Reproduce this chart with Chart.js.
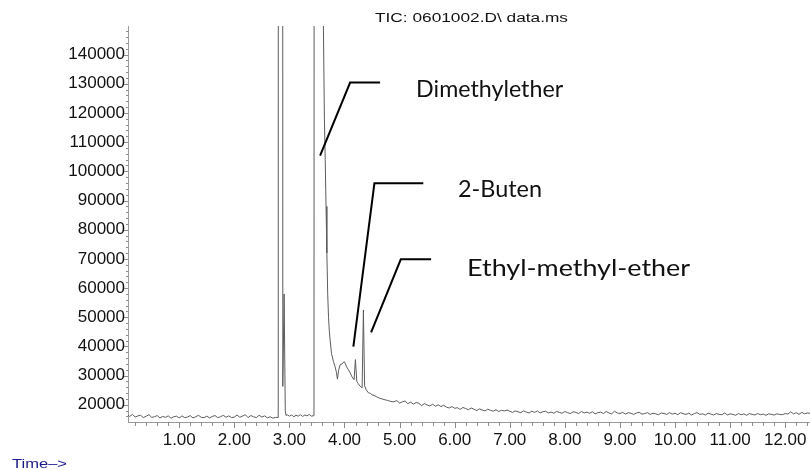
<!DOCTYPE html>
<html><head><meta charset="utf-8">
<script src="https://cdn.jsdelivr.net/npm/chart.js@4/dist/chart.umd.min.js"></script>
<style>html,body{margin:0;padding:0;background:#fff}canvas{display:block}</style>
</head><body>
<canvas id="c" width="810" height="470"></canvas>
<script>
// ---- data (retention time in min, TIC abundance) ----
const preTimes = [0.07,0.10,0.15,0.20,0.25,0.30,0.35,0.40,0.45,0.50,0.55,0.60,0.65,0.70,0.75,0.80,0.85,0.90,0.95,1.00,
  1.05,1.10,1.15,1.20,1.25,1.30,1.35,1.40,1.45,1.50,1.55,1.60,1.65,1.70,1.75,1.80,1.85,1.90,1.95,2.00,
  2.05,2.10,2.15,2.20,2.25,2.30,2.35,2.40,2.45,2.50,2.55,2.60,2.65,2.70,2.75,2.797];
const preTic = [16500,16000,16700,15800,16200,16400,15600,16100,16600,15700,
  15900,16300,15500,16000,15700,16200,15400,15900,16100,15500,
  16200,15600,15800,16300,15500,15900,16400,15700,15600,16100,
  15500,16000,16300,15600,15900,16400,15700,16200,15600,15800,
  16500,15700,16100,16600,15600,16300,15900,15600,16400,15800,
  16200,15500,15900,15400,15700,15600];

const peak1Times = [2.84,2.880,2.904,2.925,2.94];
const peak1Tic = [5000000,26300,58000,18000,16300];

const gapTimes = [2.96,3.00,3.04,3.08,3.12,3.16,3.20,3.24,3.28,3.32,3.36,3.40,3.446];
const gapTic = [16600,16100,16500,15900,16400,16100,16600,16000,16500,16200,16700,16100,16300];

const peak2Times = [3.53,3.617,3.635,3.650,3.665,3.68,3.695,3.71,3.725,3.74,3.765,3.80,3.83,3.855,3.871,3.893,3.92,3.956,3.993,4.011,
  4.038,4.071,4.102,4.132,4.174,4.198,4.223,4.247,4.283,4.32,4.343,4.365,4.392,4.434,4.47,4.501,4.55,4.586,4.63,4.68,
  4.737,4.78,4.83,4.882];
const peak2Tic = [5000000,150000,118000,104000,88000,72000,58000,50000,45000,42000,37500,34800,33000,31000,28800,31800,33700,34000,34800,34300,
  33000,32000,31000,29700,28600,35500,28000,27300,26400,25800,52500,26500,25200,24100,23900,23400,23100,22700,22300,22000,
  21700,21500,21200,21000];

const tailTimes = [4.95,5.00,5.05,5.10,5.15,5.20,5.25,5.30,5.35,5.40,
  5.45,5.50,5.55,5.60,5.65,5.70,5.75,5.80,5.85,5.90,
  5.95,6.00,6.05,6.10,6.15,6.20,6.25,6.30,6.35,6.40,
  6.45,6.50,6.55,6.60,6.65,6.70,6.75,6.80,6.85,6.90,
  6.95,7.00,7.05,7.10,7.15,7.20,7.25,7.30,7.35,7.40,
  7.45,7.50,7.55,7.60,7.65,7.70,7.75,7.80,7.85,7.90,
  7.95,8.00,8.05,8.10,8.15,8.20,8.25,8.30,8.35,8.40,
  8.45,8.50,8.55,8.60,8.65,8.70,8.75,8.80,8.85,8.90,
  8.95,9.00,9.05,9.10,9.15,9.20,9.25,9.30,9.35,9.40,
  9.45,9.50,9.55,9.60,9.65,9.70,9.75,9.80,9.85,9.90,
  9.95,10.00,10.05,10.10,10.15,10.20,10.25,10.30,10.35,10.40,
  10.45,10.50,10.55,10.60,10.65,10.70,10.75,10.80,10.85,10.90,
  10.95,11.00,11.05,11.10,11.15,11.20,11.25,11.30,11.35,11.40,
  11.45,11.50,11.55,11.60,11.65,11.70,11.75,11.80,11.85,11.90,
  11.95,12.00,12.05,12.10,12.15,12.20,12.25,12.30,12.35,12.40,
  12.45];
const tailTic = [21400,20600,21000,21300,20400,20900,20200,20800,20500,19700,
  20400,19900,19600,20200,19500,20000,19400,19800,19200,18900,
  19400,18800,19000,18400,19100,18700,18300,18900,18500,18000,
  18600,18200,17900,18500,18100,17800,18300,17700,18100,17900,
  18200,17800,17400,17900,17600,17300,17900,17500,17200,17800,
  17400,17900,17200,17600,17800,17200,17500,17100,17700,17400,
  17100,17700,17300,17000,17600,17400,17000,17700,17200,17500,
  17100,17600,16900,17300,17500,17000,17700,17200,16900,17800,
  17200,17000,17400,16800,17300,17100,16700,17200,17400,16800,
  17000,17300,16700,17100,16900,16600,17200,17000,16700,17300,
  16800,17100,16600,17300,16900,16700,17100,16500,17000,17300,
  16700,16900,16500,17100,16800,16500,17000,16700,16600,17200,
  16500,16900,16700,16400,17000,16600,16900,16400,17000,16700,
  16500,17000,16600,16800,16400,16900,16700,16500,16900,16700,
  16600,17000,16800,17600,16900,17300,16700,17400,16900,17200,
  17100];

const xTickValues = [1,2,3,4,5,6,7,8,9,10,11,12];
const yTickValues = [20000,30000,40000,50000,60000,70000,80000,90000,100000,110000,120000,130000,140000];

// annotations: [time, abundance] in data units
const annotNames = ['Dimethylether','2-Buten','Ethyl-methyl-ether'];
const annotTip   = [[3.557,105400],[4.161,39900],[4.483,44800]];
const annotElbow = [[4.102,130400],[4.543,95900],[5.022,69850]];
const annotEnd   = [[4.646,130400],[5.430,95900],[5.572,69850]];
const annotLabel = [[5.30,125600],[6.06,91200],[6.225,64100]];

const titleText = 'TIC: 0601002.D\\ data.ms';
const timeText = 'Time\u2013>';

// ---- build ----
const allTimes = [...preTimes, ...peak1Times, ...gapTimes, ...peak2Times, ...tailTimes];
const allTic = [...preTic, ...peak1Tic, ...gapTic, ...peak2Tic, ...tailTic];
const n = Math.min(allTimes.length, allTic.length);
const points = [];
for (let i = 0; i < n; i++) points.push({x: allTimes[i], y: allTic[i]});

const labelWidths = [147, 84, 223];

function fitText(ctx, text, x, y, font, width) {
  ctx.font = font;
  const w = ctx.measureText(text).width;
  ctx.save();
  ctx.translate(x, y);
  ctx.scale(width / w, 1);
  ctx.fillText(text, 0, 0);
  ctx.restore();
}

const decor = {
  id: 'decor',
  afterDraw(chart) {
    const {ctx, chartArea: a} = chart;
    const x = chart.scales.x, y = chart.scales.y;
    ctx.save();
    // x ticks (major every 1.0, minor every 0.2)
    ctx.strokeStyle = '#8c8c8c'; ctx.lineWidth = 1;
    ctx.beginPath();
    for (let k = 1; k <= 70; k++) {
      const t = k * 0.2;
      if (t > x.max) break;
      const px = Math.round(x.getPixelForValue(t)) + 0.5;
      const major = k % 5 === 0;
      ctx.moveTo(px, a.bottom);
      ctx.lineTo(px, a.bottom + (major ? 6 : 4));
    }
    ctx.stroke();
    // y ticks (major 10000, minor 2000)
    ctx.beginPath();
    for (let v = 16000; v <= y.max; v += 2000) {
      const py = Math.round(y.getPixelForValue(v)) + 0.5;
      const major = v % 10000 === 0;
      ctx.moveTo(a.left, py);
      ctx.lineTo(a.left - (major ? 4 : 2), py);
    }
    ctx.stroke();
    // annotation leader lines
    ctx.strokeStyle = '#000'; ctx.lineWidth = 2; ctx.lineJoin = 'miter';
    for (let i = 0; i < annotNames.length; i++) {
      ctx.beginPath();
      ctx.moveTo(x.getPixelForValue(annotTip[i][0]), y.getPixelForValue(annotTip[i][1]));
      ctx.lineTo(x.getPixelForValue(annotElbow[i][0]), y.getPixelForValue(annotElbow[i][1]));
      ctx.lineTo(x.getPixelForValue(annotEnd[i][0]), y.getPixelForValue(annotEnd[i][1]));
      ctx.stroke();
    }
    // annotation labels
    ctx.fillStyle = '#111'; ctx.textAlign = 'left'; ctx.textBaseline = 'alphabetic';
    for (let i = 0; i < annotNames.length; i++) {
      fitText(ctx, annotNames[i], x.getPixelForValue(annotLabel[i][0]), y.getPixelForValue(annotLabel[i][1]),
        "24px Lato, 'Noto Sans', sans-serif", labelWidths[i]);
    }
    // title
    ctx.fillStyle = '#111';
    fitText(ctx, titleText, 375, 22, "12.5px 'Liberation Sans', Arial, sans-serif", 193);
    // time label
    ctx.fillStyle = '#1a1a8c';
    fitText(ctx, timeText, 12, 468, "13px 'Liberation Sans', Arial, sans-serif", 55);
    ctx.restore();
  }
};

Chart.defaults.font.family = "'Liberation Sans', Arial, sans-serif";

new Chart(document.getElementById('c'), {
  type: 'line',
  data: {
    datasets: [{
      data: points,
      borderColor: '#5c5c5c',
      borderWidth: 1,
      pointRadius: 0,
      tension: 0,
      fill: false
    }]
  },
  options: {
    responsive: false,
    animation: false,
    devicePixelRatio: 1,
    layout: {padding: {top: 26, right: 0, left: 0, bottom: 0}},
    plugins: {legend: {display: false}, tooltip: {enabled: false}, title: {display: false}},
    scales: {
      x: {
        type: 'linear', min: 0.07, max: 12.45,
        grid: {display: false, drawTicks: false},
        border: {display: true, color: '#9a9a9a', width: 1},
        ticks: {color: '#111', font: {size: 17}, padding: 8, maxRotation: 0,
          callback: v => Number(v).toFixed(2)},
        afterBuildTicks: s => { s.ticks = xTickValues.map(v => ({value: v})); },
        afterFit: s => { s.height = 48; s.paddingLeft = 0; s.paddingRight = 0; }
      },
      y: {
        type: 'linear', min: 14100, max: 149800,
        grid: {display: false, drawTicks: false},
        border: {display: true, color: '#9a9a9a', width: 1},
        ticks: {color: '#111', font: {size: 17}, padding: 3, callback: v => String(v)},
        afterBuildTicks: s => { s.ticks = yTickValues.map(v => ({value: v})); },
        afterFit: s => { s.width = 128; s.paddingTop = 0; s.paddingBottom = 0; }
      }
    }
  },
  plugins: [decor]
});
</script>
</body></html>
